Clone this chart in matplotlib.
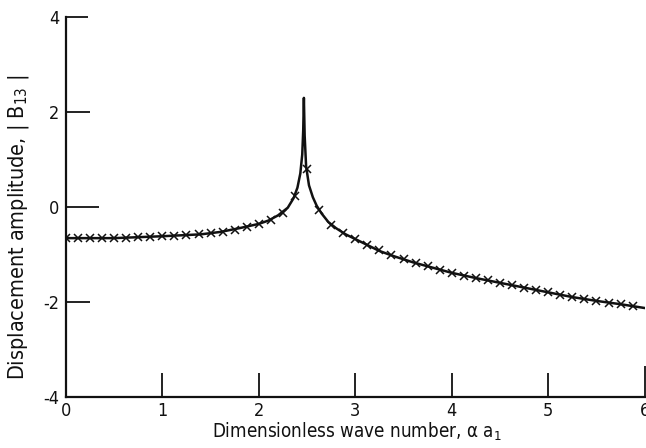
import matplotlib
matplotlib.use("Agg")
import matplotlib.pyplot as plt

INK = "#111111"

# solid curve
curve_x = [0.0, 0.5, 1.0, 1.4, 1.6, 1.8, 2.0, 2.1, 2.2, 2.3, 2.36, 2.40, 2.43,
           2.45, 2.46, 2.467, 2.475, 2.49, 2.52, 2.56, 2.6, 2.65, 2.72, 2.8,
           2.9, 3.0, 3.12, 3.25, 3.4, 3.6, 3.8, 4.0, 4.25, 4.5, 4.75, 5.0,
           5.25, 5.5, 5.75, 6.0]
curve_y = [-0.66, -0.66, -0.62, -0.58, -0.53, -0.45, -0.36, -0.29, -0.18,
           -0.02, 0.18, 0.40, 0.70, 1.10, 1.60, 2.29, 1.50, 0.85, 0.45, 0.20,
           0.02, -0.14, -0.32, -0.45, -0.58, -0.68, -0.80, -0.93, -1.04,
           -1.17, -1.28, -1.39, -1.50, -1.60, -1.70, -1.80, -1.90, -1.98,
           -2.05, -2.13]

# cross symbols along the curve
mark_x = [0.0, 0.125, 0.25, 0.375, 0.5, 0.625, 0.75, 0.875, 1.0, 1.125, 1.25,
          1.375, 1.5, 1.625, 1.75, 1.875, 2.0, 2.125, 2.25, 2.375, 2.5, 2.625,
          2.75, 2.875, 3.0, 3.125, 3.25, 3.375, 3.5, 3.625, 3.75, 3.875, 4.0,
          4.125, 4.25, 4.375, 4.5, 4.625, 4.75, 4.875, 5.0, 5.125, 5.25,
          5.375, 5.5, 5.625, 5.75, 5.875]
mark_y = [-0.66, -0.66, -0.66, -0.66, -0.66, -0.65, -0.64, -0.63, -0.62,
          -0.61, -0.60, -0.58, -0.56, -0.53, -0.48, -0.42, -0.36, -0.27,
          -0.13, 0.22, 0.80, -0.06, -0.38, -0.56, -0.68, -0.80, -0.92, -1.02,
          -1.10, -1.18, -1.25, -1.32, -1.39, -1.45, -1.50, -1.55, -1.60,
          -1.65, -1.70, -1.75, -1.80, -1.85, -1.90, -1.94, -1.98, -2.02,
          -2.05, -2.09]

x_ticks = [0, 1, 2, 3, 4, 5, 6]
y_ticks = [-4, -2, 0, 2, 4]

plt.rcParams.update({
    "font.family": ["DejaVu Sans"],
    "font.stretch": "condensed",
    "font.size": 12,
    "mathtext.default": "regular",
    "text.color": INK,
    "axes.labelcolor": INK,
    "xtick.color": INK,
    "ytick.color": INK,
})

fig = plt.figure(figsize=(6.46, 4.48), dpi=100)
ax = fig.add_axes([0.102, 0.114, 0.896, 0.849])

ax.plot(curve_x, curve_y, color=INK, linewidth=1.8, zorder=3)
ax.plot(mark_x, mark_y, linestyle="none", marker="x", markersize=5.5,
        markeredgewidth=1.1, color=INK, zorder=4)

ax.set_xlim(0, 6)
ax.set_ylim(-4, 4)
ax.set_xticks(x_ticks)
ax.set_yticks(y_ticks)
ax.set_xticklabels([str(v) for v in x_ticks])
ax.set_yticklabels([str(v) for v in y_ticks])

ax.spines[["top", "right"]].set_visible(False)
for side in ("left", "bottom"):
    ax.spines[side].set_linewidth(1.6)
    ax.spines[side].set_color(INK)

ax.tick_params(axis="both", direction="in", width=1.3, labelsize=13)
ax.tick_params(axis="y", length=17, pad=5)
ax.tick_params(axis="x", length=17, pad=4)
# the zero tick on the ordinate is drawn longer in the original
ax.yaxis.get_major_ticks()[2].tick1line.set_markersize(24)
ax.yaxis.get_major_ticks()[4].tick1line.set_markersize(16)
ax.xaxis.get_major_ticks()[6].tick1line.set_markersize(22)
for t in ax.get_xticklabels() + ax.get_yticklabels():
    t.set_clip_on(False)

ax.set_xlabel("Dimensionless wave number, α a$_1$", fontsize=13.5)
ax.xaxis.set_label_coords(0.503, -0.063)
ax.set_ylabel("Displacement amplitude, | B$_{13}$ |", fontsize=15.5)
ax.yaxis.set_label_coords(-0.06, 0.445)

fig.savefig("out.png", dpi=100)
